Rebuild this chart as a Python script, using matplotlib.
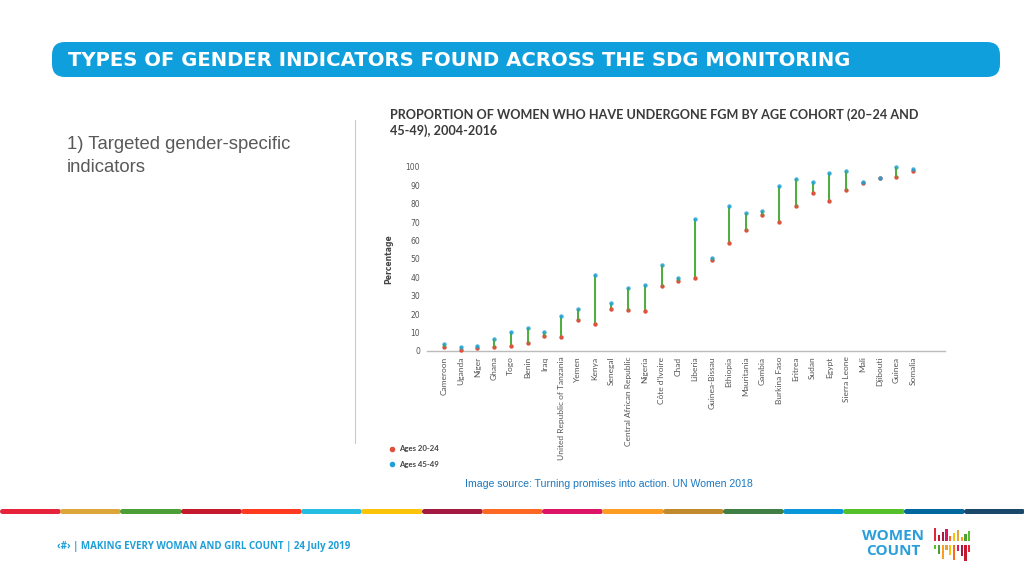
import matplotlib.pyplot as plt
from matplotlib.patches import FancyBboxPatch, Rectangle

# Дані
countries = ['Cameroon', 'Uganda', 'Niger', 'Ghana', 'Togo', 'Benin', 'Iraq',
             'United Republic of Tanzania', 'Yemen', 'Kenya', 'Senegal',
             'Central African Republic', 'Nigeria', "Côte d'Ivoire", 'Chad',
             'Liberia', 'Guinea-Bissau', 'Ethiopia', 'Mauritania', 'Gambia',
             'Burkina Faso', 'Eritrea', 'Sudan', 'Egypt', 'Sierra Leone',
             'Mali', 'Djibouti', 'Guinea', 'Somalia']
ages_20_24 = [2.4, 0.5, 1.4, 2.2, 2.5, 4.5, 8.0, 7.4, 16.8, 14.9, 23.0,
              22.1, 21.9, 35.1, 38.2, 39.9, 49.3, 58.5, 65.9, 73.9,
              70.3, 78.8, 85.9, 81.7, 87.5, 91.5, 94.0, 94.7, 97.8]
ages_45_49 = [3.8, 2.2, 2.9, 6.3, 10.3, 12.3, 10.1, 18.8, 22.8, 41.1, 26.3,
              34.4, 36.0, 46.9, 39.9, 71.9, 50.4, 78.6, 74.8, 76.1,
              89.7, 93.3, 92.0, 96.9, 97.6, 91.8, 94.2, 99.8, 98.9]
yticks = list(range(0, 101, 10))

sdg_colors = ['#e5243b', '#dda63a', '#4c9f38', '#c5192d', '#ff3a21', '#26bde2',
              '#fcc30b', '#a21942', '#fd6925', '#dd1367', '#fd9d24', '#bf8b2e',
              '#3f7e44', '#0a97d9', '#56c02b', '#00689d', '#19486a']

W, H = 1024, 576
fig = plt.figure(figsize=(10.24, 5.76), dpi=100)

# фон слайда в пікселях
bg = fig.add_axes([0, 0, 1, 1])
bg.set_xlim(0, W)
bg.set_ylim(H, 0)
bg.axis('off')

# заголовок
bar = FancyBboxPatch((52, 42), 948, 35, boxstyle='round,pad=0,rounding_size=13',
                     fc='#109fdd', ec='none')
bg.add_patch(bar)
bg.text(68, 60, 'TYPES OF GENDER INDICATORS FOUND ACROSS THE SDG MONITORING',
        color='white', fontsize=14.1, fontweight='bold', family='DejaVu Sans',
        va='center', ha='left')
# другий рядок виходить за межі смуги і обрізається
t2 = bg.text(68, 86, 'FRAMEWORK', color='white', fontsize=14.1, fontweight='bold',
             family='DejaVu Sans', va='center', ha='left')
t2.set_clip_path(bar)

bg.text(67, 156, '1) Targeted gender-specific\nindicators', color='#595959',
        fontsize=13.3, family='Liberation Sans', va='center', ha='left', linespacing=1.4)
bg.plot([355, 355], [120, 443], color='#a9d3ea', lw=0.8)

# назва графіка
bg.text(390, 123, 'PROPORTION OF WOMEN WHO HAVE UNDERGONE FGM BY AGE COHORT (20–24 AND\n45-49), 2004-2016',
        color='#3a3a3a', fontsize=9.1, fontweight='bold', family='Lato',
        va='center', ha='left', linespacing=1.3, zorder=4)

# легенда
bg.scatter([392], [449], s=9, color='#e0503a', zorder=4)
bg.scatter([392], [464], s=9, color='#1fa0d8', zorder=4)
bg.text(399, 449, 'Ages 20-24', fontsize=5.6, color='#444444', va='center', family='Lato', fontweight='bold')
bg.text(399, 464, 'Ages 45-49', fontsize=5.6, color='#444444', va='center', family='Lato', fontweight='bold')

bg.text(465, 484, 'Image source: Turning promises into action. UN Women 2018',
        fontsize=7.6, color='#1a78c2', va='center', ha='left', family='Liberation Sans')

# смуга кольорів ЦСР
seg = W / len(sdg_colors)
for i, c in enumerate(sdg_colors):
    bg.plot([i * seg + 2, (i + 1) * seg - 2], [511, 511], color=c, lw=3.6,
            solid_capstyle='round')

bg.text(57, 547, '‹#› | MAKING EVERY WOMAN AND GIRL COUNT | 24 July 2019',
        fontsize=7.0, color='#1f9fd8', fontweight='bold', va='center', ha='left',
        family='Open Sans')

# логотип
bg.text(862, 536, 'WOMEN', fontsize=11, color='#2b9fd9', fontweight='bold', va='center',
        ha='left', family='Open Sans')
bg.text(866, 551, 'COUNT', fontsize=11, color='#2b9fd9', fontweight='bold', va='center',
        ha='left', family='Open Sans')
logo_cols = ['#e5243b', '#c5192d', '#a21942', '#dd1367', '#fd6925', '#fcc30b',
             '#dda63a', '#fd9d24', '#4c9f38', '#56c02b']
for i, c in enumerate(logo_cols):
    x = 934 + i * 3.8
    top = 528 + (i * 7) % 10
    bg.add_patch(Rectangle((x, top), 2.2, 541 - top, fc=c, ec='none'))
    bot = 547 + (i * 5) % 14
    bg.add_patch(Rectangle((x, 545), 2.2, bot - 545 + 2, fc=logo_cols[::-1][i], ec='none'))

# основний графік
ax = fig.add_axes([427 / W, 1 - 351 / H, (945 - 427) / W, (351 - 167) / H])
ax.set_facecolor('none')
x = list(range(len(countries)))
ax.vlines(x, ages_20_24, ages_45_49, color='#4cae3c', lw=1.4, zorder=2)
ax.scatter(x, ages_20_24, s=10, color='#e0503a', zorder=3, clip_on=False, lw=0)
ax.scatter(x, ages_45_49, s=10, color='#1fa0d8', zorder=3, clip_on=False, lw=0, alpha=0.85)
ax.vlines(x, ages_20_24, ages_45_49, color='#4cae3c', lw=0.8, zorder=4, alpha=0.6)

ax.set_xlim(-1.0, 29.9)
ax.set_ylim(0, 100)
ax.set_yticks(yticks)
ax.set_yticklabels([str(v) for v in yticks], fontsize=5.5, color='#555555')
ax.set_xticks(x)
ax.set_xticklabels(countries, rotation=90, fontsize=6.0, color='#555555',
                   family='Lato', va='top')
ax.tick_params(length=0, pad=5)
ax.tick_params(axis='x', pad=4)
for s in ['top', 'right', 'left']:
    ax.spines[s].set_visible(False)
ax.spines['bottom'].set_color('#bbbbbb')
ax.spines['bottom'].set_linewidth(1.0)
ax.set_ylabel('Percentage', fontsize=5.5, fontweight='bold', color='#444444')
ax.yaxis.set_label_coords(-0.066, 0.5)

fig.savefig('out.png', dpi=100)
